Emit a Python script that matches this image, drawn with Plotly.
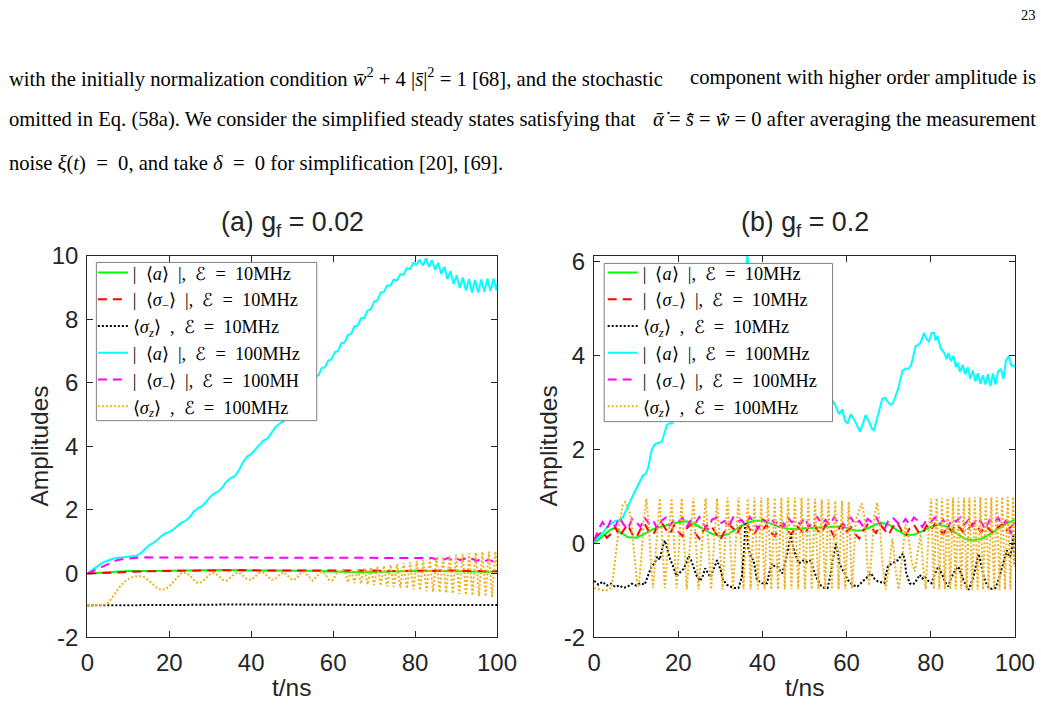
import plotly.graph_objects as go

# ---------------- data: panel (a) g_f = 0.02 ----------------
A_GREEN_T = [0, 2, 4, 6, 8, 10, 14, 18, 22, 26, 30, 34, 38, 42, 46, 50, 54, 58, 62, 66, 70, 74, 78, 82, 86, 90, 94, 98, 100]
A_GREEN_V = [0.00, 0.02, 0.04, 0.06, 0.07, 0.08, 0.08, 0.09, 0.10, 0.11, 0.12, 0.11, 0.10, 0.10, 0.10, 0.10, 0.09, 0.07, 0.05, 0.04, 0.05, 0.07, 0.09, 0.09, 0.08, 0.07, 0.06, 0.06, 0.07]

A_RED_T = [0, 2, 4, 6, 8, 10, 14, 18, 22, 26, 30, 34, 38, 42, 46, 50, 54, 58, 62, 66, 70, 74, 78, 82, 86, 90, 94, 98, 100]
A_RED_V = [0.00, 0.01, 0.03, 0.05, 0.06, 0.07, 0.07, 0.08, 0.09, 0.09, 0.10, 0.10, 0.11, 0.10, 0.10, 0.11, 0.10, 0.10, 0.11, 0.12, 0.10, 0.08, 0.09, 0.10, 0.11, 0.10, 0.08, 0.07, 0.07]

A_BLACK_T = [0, 10, 20, 25, 30, 35, 40, 45, 50, 55, 58, 62, 66, 70, 75, 80, 85, 90, 95, 100]
A_BLACK_V = [-1.00, -1.00, -0.99, -0.98, -0.98, -0.97, -0.97, -0.97, -0.97, -0.96, -0.96, -0.98, -0.99, -0.99, -0.99, -0.98, -0.98, -0.97, -0.97, -0.99]

A_CYAN_T = [0, 1, 2, 3, 4, 5, 6, 7, 8, 9, 10, 11, 12, 13, 14, 15, 16, 17, 18, 19, 20,
            21, 22, 23, 24, 25, 26, 27, 28, 29, 30, 31, 32, 33, 34, 35, 36, 37, 38, 39, 40,
            41, 42, 43, 44, 45, 46, 47, 48, 49, 50,
            50.8, 51.6, 52.4, 53.2, 54.0, 54.8, 55.6, 56.4, 57.2, 58.0, 58.8, 59.6, 60.4,
            61.2, 62.0, 62.8, 63.6, 64.4, 65.2, 66.0, 66.8, 67.6, 68.4, 69.2, 70.0, 70.8,
            71.6, 72.4, 73.2, 74.0, 74.8, 75.6, 76.4, 77.2, 78.0, 78.8, 79.6, 80.4,
            81.15, 81.9, 82.65, 83.4, 84.15, 84.9, 85.65, 86.4, 87.15, 87.9, 88.65, 89.4,
            90.15, 90.9, 91.65, 92.4, 93.15, 93.9, 94.65, 95.4, 96.15, 96.9, 97.65, 98.4,
            99.15, 99.9, 100]
A_CYAN_V = [0.00, 0.10, 0.20, 0.28, 0.36, 0.42, 0.46, 0.49, 0.50, 0.51, 0.52, 0.53, 0.56,
            0.64, 0.76, 0.88, 0.96, 1.05, 1.17, 1.26, 1.31, 1.38, 1.50,
            1.60, 1.66, 1.78, 1.95, 2.06, 2.12, 2.25, 2.42, 2.52, 2.58,
            2.72, 2.90, 3.00, 3.06, 3.25, 3.50, 3.68, 3.76, 3.90, 4.05,
            4.18, 4.25, 4.45, 4.62, 4.72, 4.80, 4.98, 5.12,
            5.33, 5.37, 5.61, 5.65, 5.90, 5.95, 6.19, 6.23, 6.46, 6.48,
            6.70, 6.73, 6.96, 7.00, 7.24, 7.27, 7.50, 7.54, 7.77, 7.80,
            8.02, 8.04, 8.27, 8.31, 8.55, 8.59, 8.83, 8.86, 9.06, 9.06,
            9.24, 9.22, 9.41, 9.40, 9.60, 9.58, 9.77, 9.72,
            9.87, 9.68, 9.91, 9.64, 9.85, 9.55, 9.77, 9.42, 9.65, 9.26,
            9.51, 9.10, 9.38, 8.98, 9.31, 8.90, 9.26, 8.84, 9.23, 8.84,
            9.25, 8.86, 9.27, 8.88, 9.28, 8.90, 9.10]

A_MAG_T = [0, 1, 2, 3, 4, 5, 6, 7, 8, 9, 10, 12, 14, 18, 22, 26, 30, 34, 38, 42, 46, 50, 54, 58,
           62, 66, 70, 74, 78, 82, 84, 85, 86, 87, 88, 89, 90, 91, 92, 93, 94, 95, 96, 97, 98, 99, 100]
A_MAG_V = [0.00, 0.06, 0.12, 0.19, 0.25, 0.31, 0.36, 0.41, 0.44, 0.46, 0.48, 0.50, 0.51,
           0.51, 0.50, 0.51, 0.51, 0.50, 0.51, 0.51, 0.50, 0.51, 0.51, 0.50, 0.51, 0.51, 0.50, 0.51, 0.51,
           0.50, 0.49, 0.46, 0.50, 0.44, 0.49, 0.43, 0.48, 0.42, 0.47, 0.41, 0.46, 0.40, 0.45, 0.39, 0.44, 0.38, 0.41]

A_ORANGE_T = [0, 2, 4, 5, 6, 7, 8, 9, 10, 11, 12, 13, 14, 15, 16, 17, 18, 19, 20,
              21, 22, 23, 24, 25, 26, 27, 28, 29, 30, 31, 32, 33, 34, 35, 36, 37, 38, 39, 40,
              41, 42, 43, 44, 45, 46, 47, 48, 49, 50, 51, 52, 53, 54, 55, 56, 57, 58, 59, 60, 61, 62,
              62.8, 63.6, 64.4, 65.2, 66.0, 66.8, 67.6, 68.4, 69.2, 70.0, 70.8, 71.6, 72.4, 73.2,
              74.0, 74.8, 75.6, 76.4, 77.2, 78.0, 78.8, 79.6, 80.4, 81.2, 82.0, 82.8, 83.6, 84.4,
              85.2, 86.0, 86.8, 87.6, 88.4, 89.2, 90.0, 90.8, 91.6, 92.4, 93.2, 94.0, 94.8, 95.6,
              96.4, 97.2, 98.0, 98.8, 99.6, 100]
A_ORANGE_V = [-1.00, -1.00, -0.98, -0.92, -0.78, -0.58, -0.40, -0.26, -0.17, -0.11, -0.08, -0.08,
              -0.12, -0.22, -0.34, -0.45, -0.51, -0.49, -0.40, -0.25, -0.10, 0.02, 0.03, -0.06,
              -0.20, -0.30, -0.26, -0.13, -0.01, 0.02, -0.07, -0.19, -0.22, -0.12, 0.00, 0.03,
              -0.06, -0.17, -0.20, -0.10, 0.02, 0.03, -0.10, -0.20, -0.16, -0.02, 0.04, -0.08,
              -0.20, -0.16, 0.00, 0.05, -0.10, -0.22, -0.10, 0.06, 0.00, -0.20, -0.20, 0.05, 0.08,
              0.10, -0.27, 0.12, -0.30, 0.14, -0.32, 0.16, -0.34, 0.19, -0.36, 0.22, -0.38,
              0.25, -0.40, 0.28, -0.42, 0.30, -0.45, 0.33, -0.47, 0.36, -0.50, 0.40, -0.52,
              0.43, -0.55, 0.46, -0.57, 0.50, -0.59, 0.53, -0.61, 0.56, -0.63, 0.59, -0.65,
              0.62, -0.67, 0.64, -0.69, 0.66, -0.71, 0.68, -0.72, 0.70, -0.73, 0.70, 0.20]

# ---------------- data: panel (b) g_f = 0.2 ----------------
B_GREEN_T = [0, 2, 4, 5, 6, 8, 10, 12, 14, 16, 18, 20, 22, 24, 26, 28, 30, 32, 34, 36, 38, 40, 42, 44, 46,
             48, 50, 52, 54, 56, 58, 60, 62, 64, 66, 68, 70, 72, 74, 76, 78, 80, 82, 84, 86, 88, 90, 92,
             94, 96, 98, 100]
B_GREEN_V = [0.00, 0.15, 0.30, 0.32, 0.25, 0.13, 0.12, 0.20, 0.30, 0.36, 0.40, 0.45, 0.47, 0.40, 0.30,
             0.20, 0.15, 0.20, 0.32, 0.42, 0.48, 0.48, 0.42, 0.35, 0.31, 0.30, 0.32, 0.33, 0.33, 0.34,
             0.36, 0.33, 0.27, 0.28, 0.36, 0.44, 0.40, 0.28, 0.18, 0.18, 0.26, 0.35, 0.40, 0.35, 0.22,
             0.10, 0.06, 0.10, 0.19, 0.30, 0.42, 0.50]

B_NOISE_T = list(range(0, 101))
B_RED_V = [0.10, 0.18, 0.25, 0.12, 0.20, 0.35, 0.15, 0.28, 0.40, 0.20,
           0.12, 0.30, 0.42, 0.25, 0.18, 0.35, 0.45, 0.30, 0.20, 0.38,
           0.25, 0.15, 0.32, 0.40, 0.22, 0.10, 0.28, 0.40, 0.35, 0.20,
           0.08, 0.25, 0.40, 0.32, 0.20, 0.38, 0.45, 0.30, 0.18, 0.35,
           0.28, 0.40, 0.23, 0.15, 0.35, 0.42, 0.25, 0.20, 0.38, 0.30,
           0.18, 0.35, 0.45, 0.28, 0.20, 0.40, 0.32, 0.15, 0.30, 0.42,
           0.25, 0.35, 0.20, 0.10, 0.28, 0.40, 0.32, 0.22, 0.40, 0.30,
           0.18, 0.35, 0.45, 0.28, 0.15, 0.32, 0.40, 0.25, 0.20, 0.38,
           0.28, 0.42, 0.30, 0.20, 0.35, 0.25, 0.40, 0.32, 0.20, 0.30,
           0.42, 0.35, 0.23, 0.38, 0.30, 0.20, 0.35, 0.40, 0.28, 0.34,
           0.45]
B_MAG_V = [0.05, 0.30, 0.45, 0.30, 0.50, 0.35, 0.55, 0.40, 0.30, 0.52,
           0.45, 0.35, 0.55, 0.42, 0.50, 0.30, 0.48, 0.55, 0.38, 0.50,
           0.45, 0.55, 0.35, 0.50, 0.42, 0.56, 0.40, 0.30, 0.50, 0.55,
           0.42, 0.48, 0.35, 0.55, 0.45, 0.50, 0.38, 0.56, 0.44, 0.30,
           0.52, 0.46, 0.55, 0.40, 0.50, 0.35, 0.55, 0.45, 0.50, 0.40,
           0.55, 0.35, 0.48, 0.56, 0.42, 0.50, 0.38, 0.55, 0.45, 0.30,
           0.50, 0.55, 0.40, 0.48, 0.35, 0.52, 0.45, 0.55, 0.40, 0.30,
           0.50, 0.55, 0.45, 0.38, 0.52, 0.40, 0.55, 0.48, 0.35, 0.50,
           0.45, 0.55, 0.40, 0.50, 0.30, 0.52, 0.46, 0.55, 0.40, 0.50,
           0.35, 0.55, 0.45, 0.30, 0.50, 0.42, 0.55, 0.38, 0.50, 0.20,
           0.45]

B_BLACK_T = [0, 1, 2, 3, 4, 5, 6, 7, 8, 9, 10, 11, 12, 12.8, 13.6, 14.4, 15, 15.6, 16.2, 16.8, 17.4,
             18, 18.8, 19.6, 20.4, 21.2, 22, 22.4, 23, 23.6, 24.4, 25.2, 25.8, 26.4, 27, 27.6, 28.4,
             29.2, 30, 30.7, 31.5, 32.3, 33.3, 34.3, 35.1, 35.6, 35.95, 36.3, 36.7, 37.3, 37.9, 38.7,
             39.9, 41.1, 41.7, 42.3, 43, 43.5, 44.1, 44.7, 45.3, 45.9, 46.7, 47.1, 47.5, 48.1, 48.7,
             49.3, 49.9, 50.7, 51.5, 52.3, 53.1, 53.9, 54.7, 55.5, 56.1, 56.7, 57.5, 57.9, 58.3, 59.5,
             60.3, 61, 61.8, 62.6, 63.4, 64.2, 65, 65.8, 66.6, 67.4, 68.2, 69, 69.4, 69.8, 70.4, 71,
             71.6, 72.2, 72.8, 73.4, 73.8, 74.2, 75, 75.6, 76.2, 76.8, 77.4, 78, 78.6, 79.4, 80.2, 81,
             81.8, 82.4, 83, 83.6, 84.2, 84.8, 85.4, 86, 86.6, 87.2, 87.8, 88.4, 89, 89.6, 90.2, 90.8,
             91.4, 92, 92.6, 93.2, 93.8, 94.6, 95.4, 96.2, 97, 97.6, 98.1, 98.5, 98.9, 99.3, 99.7, 100]
B_BLACK_V = [-0.80, -0.88, -0.82, -0.90, -0.86, -0.93, -0.90, -0.95, -0.92, -0.86, -0.90, -0.85, -0.88,
             -0.70, -0.50, -0.42, -0.28, -0.35, -0.10, 0.06, -0.15, -0.32, -0.50, -0.70, -0.62, -0.55,
             -0.40, -0.27, -0.35, -0.52, -0.70, -0.80, -0.70, -0.53, -0.62, -0.72, -0.55, -0.36, -0.55,
             -0.78, -0.88, -0.92, -0.95, -0.95, -0.72, -0.20, 0.45, 0.10, -0.12, -0.30, -0.36, -0.78,
             -0.85, -0.85, -0.60, -0.43, -0.50, -0.50, -0.58, -0.64, -0.45, -0.22, 0.20, 0.00, -0.15,
             -0.30, -0.43, -0.38, -0.36, -0.40, -0.36, -0.60, -0.78, -0.90, -0.95, -0.95, -0.70, -0.36,
             -0.01, -0.20, -0.43, -0.64, -0.78, -0.85, -0.90, -0.92, -0.85, -0.78, -0.70, -0.64, -0.75,
             -0.81, -0.83, -0.85, -0.65, -0.50, -0.45, -0.43, -0.38, -0.36, -0.28, -0.22, -0.35, -0.64,
             -0.85, -0.88, -0.85, -0.75, -0.67, -0.75, -0.71, -0.80, -0.85, -0.65, -0.50, -0.60, -0.71,
             -0.85, -0.92, -0.75, -0.64, -0.55, -0.50, -0.65, -0.78, -0.90, -0.99, -0.85, -0.71, -0.45,
             -0.22, -0.45, -0.71, -0.85, -0.95, -0.97, -0.95, -0.75, -0.50, -0.30, -0.15, -0.25, -0.29,
             -0.10, 0.20, -0.50]

B_CYAN_T = [0, 1, 2, 3, 4, 5, 6, 6.8, 7.8, 8.6, 9.4, 10.2, 11, 11.6, 12.2, 12.8, 13.7, 14.3, 14.9, 15.5,
            16.1, 16.7, 17.3, 17.9, 18.5, 19.3, 20.2, 21, 22, 23, 24, 25, 26, 27, 28, 29, 30, 31, 32,
            33, 34, 35, 35.8, 36.4, 36.9, 37.6, 38.5, 39.5, 40.5, 41.5, 42.5, 43.5, 44.5, 45.5, 46.5,
            47.5, 48.5, 49.5, 50.5, 51.5, 52.5, 53.5, 54.5, 55.5, 56.2, 56.9, 57.5, 58.2, 59, 59.6,
            60.2, 61, 61.7, 62.4, 63.2, 63.9, 64.5, 65.3, 66, 66.5, 67.5, 68.5, 69.2, 69.9, 70.5, 70.9,
            71.5, 72.3, 73.3, 74, 74.7, 75.3, 75.9, 76.4, 77, 77.6, 78.4, 79, 79.6, 80.2, 80.8, 81.2,
            81.6, 82.4, 83.2, 83.8, 84.2, 84.8, 85.4, 86, 86.4, 87, 87.6, 88.2, 88.8, 89.4, 90, 90.6,
            91.2, 91.8, 92.4, 93, 93.6, 94.2, 94.8, 95.4, 96, 96.7, 97.3, 97.9, 98.6, 99.2, 99.8, 100]
B_CYAN_V = [0.03, 0.12, 0.22, 0.34, 0.42, 0.47, 0.50, 0.55, 0.76, 0.90, 1.05, 1.20, 1.33, 1.45, 1.47,
            1.60, 1.99, 2.10, 2.13, 2.14, 2.17, 2.35, 2.52, 2.55, 2.55, 2.80, 3.10, 3.05, 3.40, 3.70,
            3.60, 3.95, 4.30, 4.20, 4.55, 4.90, 4.75, 5.10, 5.40, 5.30, 5.60, 5.85, 5.70, 6.12, 5.80,
            5.50, 5.60, 5.20, 5.00, 4.80, 4.60, 4.40, 4.30, 4.00, 3.90, 3.70, 3.60, 3.40, 3.50, 3.20,
            3.30, 3.00, 3.25, 3.30, 3.10, 3.01, 2.90, 2.75, 2.85, 2.62, 2.55, 2.75, 2.66, 2.52, 2.38,
            2.55, 2.73, 2.60, 2.45, 2.41, 2.75, 3.08, 3.10, 3.00, 2.95, 2.97, 3.10, 3.30, 3.68, 3.72,
            3.72, 3.78, 4.00, 4.20, 4.22, 4.28, 4.48, 4.35, 4.30, 4.48, 4.48, 4.32, 4.41, 4.15, 4.06,
            3.92, 4.05, 3.88, 3.99, 3.75, 3.85, 3.65, 3.80, 3.60, 3.75, 3.50, 3.68, 3.45, 3.62, 3.40,
            3.58, 3.38, 3.60, 3.35, 3.62, 3.38, 3.66, 3.71, 3.50, 3.90, 3.99, 3.78, 3.79, 3.75]

B_ORANGE_T = [0, 1, 2, 3, 4, 4.5, 5.2, 6, 6.8, 7.4, 8.0, 8.6, 9.3, 10.2, 10.6, 11.3, 11.8, 12.4, 13.0,
              13.4, 14.0, 14.8, 15.6, 16.2, 16.8, 17.6, 18.4, 19.0, 19.6, 20.8, 22.0, 23.6, 24.8, 26.5,
              27.8, 29.2, 30.5, 31.7, 33, 34.3, 35.5, 36.5, 37.2, 38.1, 38.9, 39.7, 40.5, 41.3, 42.1,
              42.9, 43.7, 44.5, 45.3, 46.1, 46.9, 47.7, 48.5, 49.3, 50.1, 50.9, 51.7, 52.5, 53.3, 54.1,
              54.9, 55.7, 56.5, 57.3, 58.1, 58.9, 59.7, 60.5, 61.3, 62.2, 63, 63.6, 64.2, 64.8, 65.3,
              65.9, 66.6, 67.3, 67.9, 68.5, 69.3, 70.1, 70.9, 71.7, 72.4, 73.2, 74.0, 74.7, 75.5, 76.2,
              77, 77.6, 78.2, 78.8, 79.5, 80.1, 80.75, 81.4, 82.05, 82.7, 83.35, 84, 84.65, 85.3, 85.95,
              86.6, 87.25, 87.9, 88.55, 89.2, 89.85, 90.5, 91.15, 91.8, 92.45, 93.1, 93.75, 94.4, 95.05,
              95.7, 96.35, 97, 97.65, 98.3, 98.95, 99.6, 100]
B_ORANGE_V = [-0.95, -0.98, -1.00, -1.00, -0.95, -0.70, -0.20, 0.40, 0.82, 0.88, 0.75, 0.62, 0.00, -0.85,
              -0.92, -0.20, 0.50, 0.95, 0.40, -0.30, -0.95, 0.00, 0.96, 0.00, -0.95, 0.00, 0.96, 0.00,
              -0.95, 0.96, -0.98, 0.96, -0.98, 0.96, -0.98, 0.96, -0.98, 0.97, -0.98, 0.97, -0.98, 0.95,
              -0.98, 0.97, -0.98, 0.97, -0.98, 0.97, -0.98, 0.97, -0.98, 0.97, -0.98, 0.97, -0.98, 0.97,
              -0.98, 0.97, -0.98, 0.97, -0.98, 0.95, -0.98, 0.93, -0.98, 0.93, -0.98, 0.90, -0.98, 0.90,
              -0.98, 0.88, -0.96, 0.50, 0.70, 0.85, 0.60, -0.30, -0.90, -0.30, 0.60, 0.86, 0.40, -0.40,
              -0.98, -0.50, 0.10, -0.60, -0.98, -0.30, 0.40, 0.15, -0.40, -0.60, -0.10, 0.20, -0.50,
              -0.98, 0.20, 0.95, -0.98, 0.96, -0.98, 0.96, -0.98, 0.96, -0.98, 0.97, -0.98, 0.97, -0.98,
              0.97, -0.99, 0.97, -0.99, 0.98, -0.99, 0.98, -0.99, 0.98, -0.99, 0.98, -0.99, 0.98, -0.99,
              0.99, -0.99, 0.99, -0.99, 0.99, -0.50]

X_TICKS = [0, 20, 40, 60, 80, 100]
X_TICKTEXT = ["0", "20", "40", "60", "80", "100"]
Y_TICKS_A = [-2, 0, 2, 4, 6, 8, 10]
Y_TICKTEXT_A = ["-2", "0", "2", "4", "6", "8", "10"]
Y_TICKS_B = [-2, 0, 2, 4, 6]
Y_TICKTEXT_B = ["-2", "0", "2", "4", "6"]

E = "\u2002"  # en space, to mimic TeX math spacing
NAMES_A = [f"|{E}⟨<i>a</i>⟩{E}|,{E}ℰ{E}={E}10MHz",
           f"|{E}⟨<i>σ</i><sub>−</sub>⟩{E}|,{E}ℰ{E}={E}10MHz",
           f"⟨<i>σ<sub>z</sub></i>⟩{E},{E}ℰ{E}={E}10MHz",
           f"|{E}⟨<i>a</i>⟩{E}|,{E}ℰ{E}={E}100MHz",
           f"|{E}⟨<i>σ</i><sub>−</sub>⟩{E}|,{E}ℰ{E}={E}100MH",
           f"⟨<i>σ<sub>z</sub></i>⟩{E},{E}ℰ{E}={E}100MHz"]
NAMES_B = [f"|{E}⟨<i>a</i>⟩{E}|,{E}ℰ{E}={E}10MHz",
           f"|{E}⟨<i>σ</i><sub>−</sub>⟩{E}|,{E}ℰ{E}={E}10MHz",
           f"⟨<i>σ<sub>z</sub></i>⟩{E},{E}ℰ{E}={E}10MHz",
           f"|{E}⟨<i>a</i>⟩{E}|,{E}ℰ{E}={E}100MHz",
           f"|{E}⟨<i>σ</i><sub>−</sub>⟩{E}|,{E}ℰ{E}={E}100MHz",
           f"⟨<i>σ<sub>z</sub></i>⟩{E},{E}ℰ{E}={E}100MHz"]

COLORS = ["#00FF00", "#FF0000", "#000000", "#00FFFF", "#FF00FF", "#EDB120"]
DASHES = ["solid", "9px,6px", "2px,2px", "solid", "9px,6px", "2px,2px"]

# Page geometry: the page body keeps an 8px margin and the photographed page comes out
# scaled by about 0.973, so positions (given in picture pixels) are converted here.
S = 0.973
M = 8
FW, FH = 1062, 714

def fx(x):
    return (x / S - M) / FW

def fy(y):
    return 1 - (y / S - M) / FH

fig = go.Figure()

series_a = [(A_GREEN_T, A_GREEN_V), (A_RED_T, A_RED_V), (A_BLACK_T, A_BLACK_V),
            (A_CYAN_T, A_CYAN_V), (A_MAG_T, A_MAG_V), (A_ORANGE_T, A_ORANGE_V)]
series_b = [(B_GREEN_T, B_GREEN_V), (B_NOISE_T, B_RED_V), (B_BLACK_T, B_BLACK_V),
            (B_CYAN_T, B_CYAN_V), (B_NOISE_T, B_MAG_V), (B_ORANGE_T, B_ORANGE_V)]

for i, (t, v) in enumerate(series_a):
    fig.add_trace(go.Scatter(x=t, y=v, mode="lines", name=NAMES_A[i], xaxis="x", yaxis="y",
                             legend="legend",
                             line=dict(color=COLORS[i], width=2, dash=DASHES[i])))
for i, (t, v) in enumerate(series_b):
    fig.add_trace(go.Scatter(x=t, y=v, mode="lines", name=NAMES_B[i], xaxis="x2", yaxis="y2",
                             legend="legend2",
                             line=dict(color=COLORS[i], width=2, dash=DASHES[i])))

AX = "#262626"
tickfont = dict(family="Liberation Sans, Arial", size=24, color=AX)
common = dict(showline=True, linecolor=AX, linewidth=1.3, mirror="allticks", ticks="inside",
              ticklen=6, tickwidth=1.3, tickcolor=AX, showgrid=False, zeroline=False,
              tickfont=tickfont, fixedrange=True)
xcommon = dict(ticklabelstandoff=4, **common)
ycommon = dict(ticklabelstandoff=3, **common)

legend_font = dict(family="Liberation Serif, Times New Roman", size=18.3, color="black")
legend_common = dict(xanchor="left", yanchor="top", bgcolor="rgba(0,0,0,0)", borderwidth=0,
                     itemwidth=30, tracegroupgap=0, font=legend_font)
fig.update_layout(
    width=FW, height=FH, margin=dict(l=0, r=0, t=0, b=0),
    paper_bgcolor="white", plot_bgcolor="white",
    xaxis=dict(domain=[fx(88), fx(497)], range=[0, 100], tickvals=X_TICKS, ticktext=X_TICKTEXT,
               anchor="y", **xcommon),
    yaxis=dict(domain=[fy(638), fy(252)], range=[-2, 10], tickvals=Y_TICKS_A, ticktext=Y_TICKTEXT_A,
               anchor="x", **ycommon),
    xaxis2=dict(domain=[fx(594), fx(1014)], range=[0, 100], tickvals=X_TICKS, ticktext=X_TICKTEXT,
                anchor="y2", **xcommon),
    yaxis2=dict(domain=[fy(638), fy(252)], range=[-2, 6.13], tickvals=Y_TICKS_B, ticktext=Y_TICKTEXT_B,
                anchor="x2", **ycommon),
    legend=dict(x=fx(93.5), y=fy(250.5), **legend_common),
    legend2=dict(x=fx(602.5), y=fy(250.5), **legend_common),
    showlegend=True,
)

# legend boxes (white, gray border) drawn above the curves, below the legend entries
for (x0, y0, x1, y1) in [(97, 259, 317, 419), (604, 260, 832, 420)]:
    fig.add_shape(type="rect", xref="paper", yref="paper", x0=fx(x0), x1=fx(x1), y0=fy(y1), y1=fy(y0),
                  fillcolor="white", line=dict(color="#7f7f7f", width=1), layer="above")

def ann(text, x, y, size, family="Liberation Sans, Arial", xanchor="center", yanchor="middle",
        angle=0, color=AX):
    fig.add_annotation(text=text, x=fx(x), y=fy(y), xref="paper", yref="paper",
                       xanchor=xanchor, yanchor=yanchor, showarrow=False, textangle=angle,
                       font=dict(family=family, size=size, color=color))

# titles and axis labels
ann("(a) g<sub>f</sub> = 0.02", 292.5, 220, 26.8)
ann("(b) g<sub>f</sub> = 0.2", 804, 220, 26.8)
ann("Amplitudes", 40, 445, 24.5, angle=-90)
ann("Amplitudes", 548, 445, 24.5, angle=-90)
ann("t/ns", 292.5, 689, 24.5)
ann("t/ns", 804, 689, 24.5)

# page text
SERIF = "Liberation Serif, Times New Roman"
PT = 20.6
ann("23", 1037, 9, 14.5, family=SERIF, xanchor="right", color="black")
ann("with the initially normalization condition <i>w̄</i><sup>2</sup> + 4 |<i>s̄</i>|<sup>2</sup> = 1 [68], and the stochastic",
    8, 72, PT, family=SERIF, xanchor="left", color="black")
ann("component with higher order amplitude is", 1037, 72, PT, family=SERIF, xanchor="right", color="black")
ann("omitted in Eq. (58a). We consider the simplified steady states satisfying that",
    8, 114, PT, family=SERIF, xanchor="left", color="black")
ann("<i>ᾱ̇</i> = <i>s̄̇</i> = <i>w̄̇</i> = 0 after averaging the measurement",
    1037, 114, PT, family=SERIF, xanchor="right", color="black")
ann(f"noise <i>ξ</i>(<i>t</i>){E}={E}0, and take <i>δ</i>{E}={E}0 for simplification [20], [69].",
    8, 158.5, PT, family=SERIF, xanchor="left", color="black")

fig.write_html("out.html")
